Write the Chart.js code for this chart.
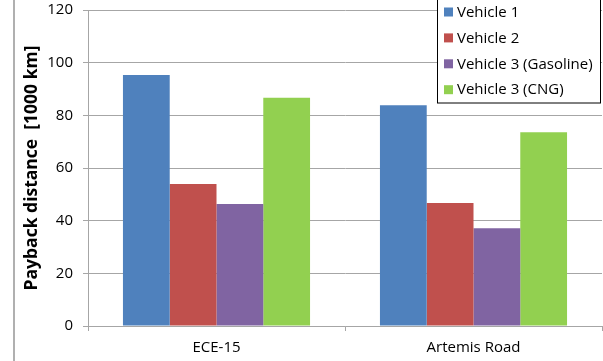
<!DOCTYPE html>
<html>
<head>
<meta charset="utf-8">
<script src="https://cdn.jsdelivr.net/npm/chart.js@4.4.0/dist/chart.umd.min.js"></script>
<style>
  html, body { margin: 0; padding: 0; background: #fff; }
  #wrap { width: 603px; height: 361px; position: relative; }
</style>
</head>
<body>
<div id="wrap"><canvas id="payback"></canvas></div>
<script>
// Payback distance chart data
const cycles = ['ECE-15', 'Artemis Road'];
const seriesNames = ['Vehicle 1', 'Vehicle 2', 'Vehicle 3 (Gasoline)', 'Vehicle 3 (CNG)'];
const vehicle1 = [95.3, 83.8];
const vehicle2 = [53.9, 46.7];
const vehicle3Gas = [46.3, 37.1];
const vehicle3Cng = [86.7, 73.6];
const yTicks = [0, 20, 40, 60, 80, 100, 120];

const colors = ['#4F81BD', '#C0504D', '#8064A2', '#92D050'];
const FONT = '"Open Sans", "Liberation Sans", sans-serif';
const GRID = '#a6a6a6';

// Left frame line and boxed legend in the top-right corner
const frameAndLegend = {
  id: 'frameAndLegend',
  beforeDraw(chart) {
    const ctx = chart.ctx;
    ctx.save();
    ctx.strokeStyle = '#b0b0b0';
    ctx.lineWidth = 2;
    ctx.beginPath();
    ctx.moveTo(14, 0);
    ctx.lineTo(14, chart.height);
    ctx.stroke();
    ctx.restore();
  },
  afterDraw(chart) {
    const ctx = chart.ctx;
    const x = 437.5, y = -1.5, w = 163, h = 104.5;
    ctx.save();
    ctx.fillStyle = '#fff';
    ctx.fillRect(x, y, w, h);
    ctx.strokeStyle = '#000';
    ctx.lineWidth = 1;
    ctx.strokeRect(x, y, w, h);
    ctx.font = '15px ' + FONT;
    ctx.textBaseline = 'middle';
    chart.data.datasets.forEach((ds, i) => {
      const cy = 12 + i * 25.9;
      ctx.fillStyle = ds.backgroundColor;
      ctx.fillRect(444, cy - 4.5, 9, 9);
      ctx.fillStyle = '#000';
      ctx.fillText(ds.label, 457, cy + 0.5);
    });
    ctx.restore();
  }
};

new Chart(document.getElementById('payback'), {
  type: 'bar',
  data: {
    labels: cycles,
    datasets: [vehicle1, vehicle2, vehicle3Gas, vehicle3Cng].map((vals, i) => ({
      label: seriesNames[i],
      data: vals,
      backgroundColor: colors[i],
      borderWidth: 0,
      barPercentage: 1,
      categoryPercentage: 0.728
    }))
  },
  options: {
    responsive: true,
    maintainAspectRatio: false,
    animation: false,
    layout: { padding: { left: 15, top: 10, right: 1, bottom: 0 } },
    plugins: {
      legend: { display: false },
      tooltip: { enabled: false }
    },
    scales: {
      x: {
        grid: {
          offset: true,
          drawOnChartArea: false,
          drawTicks: true,
          tickLength: 5,
          color: GRID
        },
        border: { color: GRID, width: 1 },
        ticks: { color: '#000', font: { family: FONT, size: 15 }, padding: 8 },
        afterFit(scale) { scale.height = 35; scale.paddingLeft = 0; scale.paddingRight = 0; }
      },
      y: {
        min: 0,
        max: 120,
        afterBuildTicks(scale) { scale.ticks = yTicks.map(v => ({ value: v })); },
        grid: { color: GRID, tickLength: 5, lineWidth: 1 },
        border: { color: GRID, width: 1 },
        ticks: { color: '#000', font: { family: FONT, size: 15 }, padding: 10 },
        title: {
          display: true,
          text: 'Payback distance  [1000 km]',
          color: '#000',
          font: { family: FONT, size: 17.5, weight: 'bold' },
          padding: { top: 7, bottom: 0 }
        },
        afterFit(scale) { scale.width = 73; scale.paddingTop = 0; scale.paddingBottom = 0; }
      }
    }
  },
  plugins: [frameAndLegend]
});
</script>
</body>
</html>
